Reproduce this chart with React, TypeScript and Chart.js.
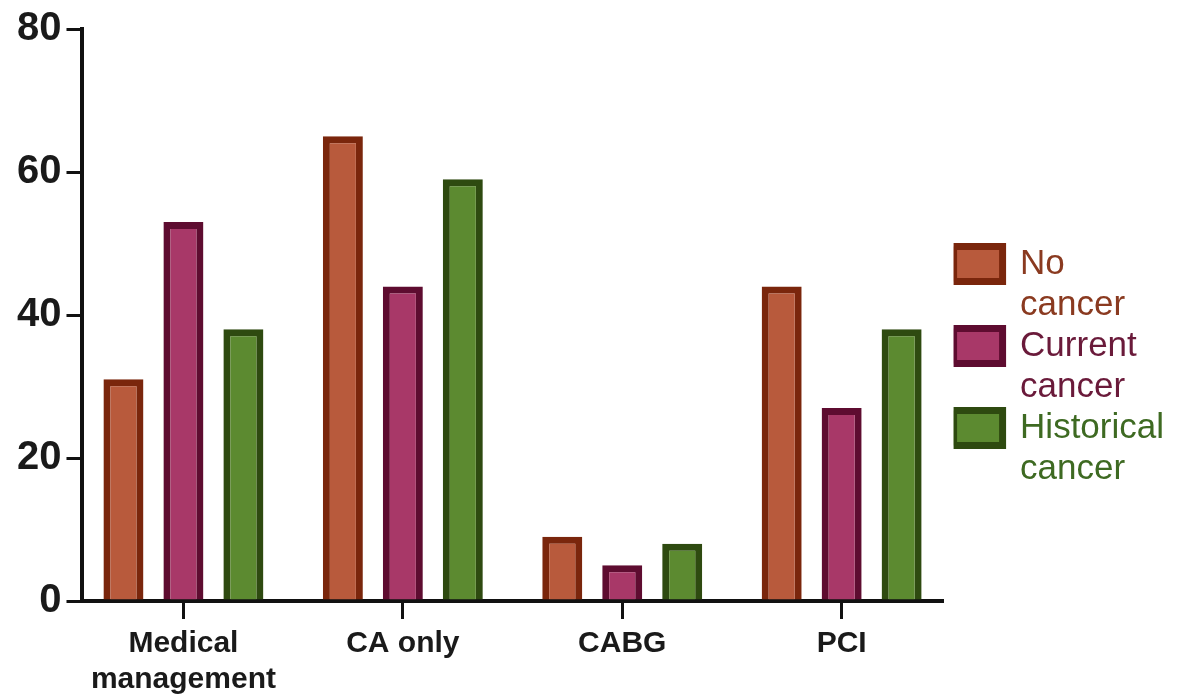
import React, { useEffect, useRef } from "react";
import { Chart, registerables } from "chart.js";

Chart.register(...registerables);

const categories: (string | string[])[] = [["Medical", "management"], "CA only", "CABG", "PCI"];
const seriesNames: string[][] = [["No", "cancer"], ["Current", "cancer"], ["Historical", "cancer"]];
const noCancer = [31, 65, 9, 44];
const currentCancer = [53, 44, 5, 27];
const historicalCancer = [38, 59, 8, 38];
const yTicks = [0, 20, 40, 60, 80];

const fills = ["#b85a3c", "#a83868", "#5c8a30"];
const borders = ["#7a260c", "#5e0c30", "#2e4a10"];
const textColors = ["#8a3a20", "#6a1a3a", "#3e6a22"];

const FONT = "'Liberation Sans', Arial, Helvetica, sans-serif";

export default function App() {
  const ref = useRef<HTMLCanvasElement | null>(null);
  useEffect(() => {
    if (!ref.current) return;
    const shiftLegend = {
      id: "shiftLegend",
      afterLayout(chart: any) {
        const lg = chart.legend;
        if (lg) {
          lg.left += 11;
          lg.right += 11;
          lg.top += 15;
          lg.bottom += 15;
        }
      },
    };
    const chart = new Chart(ref.current, {
      type: "bar",
      data: {
        labels: categories as any,
        datasets: [noCancer, currentCancer, historicalCancer].map((d, i) => ({
          label: seriesNames[i].join(" "),
          data: d,
          backgroundColor: fills[i],
          borderColor: borders[i],
          borderWidth: 7,
          borderSkipped: "start" as const,
          barPercentage: 0.667,
          categoryPercentage: 0.82,
        })),
      },
      options: {
        animation: false,
        responsive: false,
        layout: { padding: { left: 12, top: 4, right: 15, bottom: -7 } },
        plugins: {
          tooltip: { enabled: false },
          legend: {
            position: "right",
            align: "center",
            labels: {
              boxWidth: 49,
              boxHeight: 35,
              padding: 0,
              font: { family: FONT, size: 35, lineHeight: 41 / 35 },
              generateLabels: () =>
                seriesNames.map((n, i) => ({
                  text: n as any,
                  fillStyle: fills[i],
                  strokeStyle: borders[i],
                  lineWidth: 7,
                  fontColor: textColors[i],
                  hidden: false,
                  datasetIndex: i,
                })),
            },
          },
        },
        scales: {
          x: {
            offset: false,
            afterBuildTicks: (axis: any) => {
              axis.ticks = categories.map((_, i) => ({ value: i }));
              axis._startValue = -0.46;
              axis._valueRange = categories.length - 1 + 0.92;
            },
            grid: {
              offset: false,
              drawOnChartArea: false,
              drawTicks: true,
              tickLength: 18,
              color: "#111",
              lineWidth: 3,
            },
            border: { display: true, color: "#111", width: 4 },
            ticks: {
              color: "#1a1a1a",
              padding: 7,
              maxRotation: 0,
              autoSkip: false,
              font: { family: FONT, size: 30, weight: "bold", lineHeight: 1.2 },
            },
          },
          y: {
            min: 0,
            max: 80,
            afterBuildTicks: (axis: any) => {
              axis.ticks = yTicks.map((v) => ({ value: v }));
            },
            grid: {
              drawOnChartArea: false,
              drawTicks: true,
              tickLength: 16,
              color: "#111",
              lineWidth: 3,
            },
            border: { display: true, color: "#111", width: 4 },
            ticks: {
              color: "#1a1a1a",
              padding: 5,
              font: { family: FONT, size: 40, weight: "bold", lineHeight: 1.2 },
            },
          },
        },
      },
      plugins: [shiftLegend],
    });
    return () => chart.destroy();
  }, []);
  return (
    <div style={{ position: "fixed", left: 0, top: 0, width: 1178, height: 698, background: "#fff" }}>
      <canvas ref={ref} width={1178} height={698} />
    </div>
  );
}
